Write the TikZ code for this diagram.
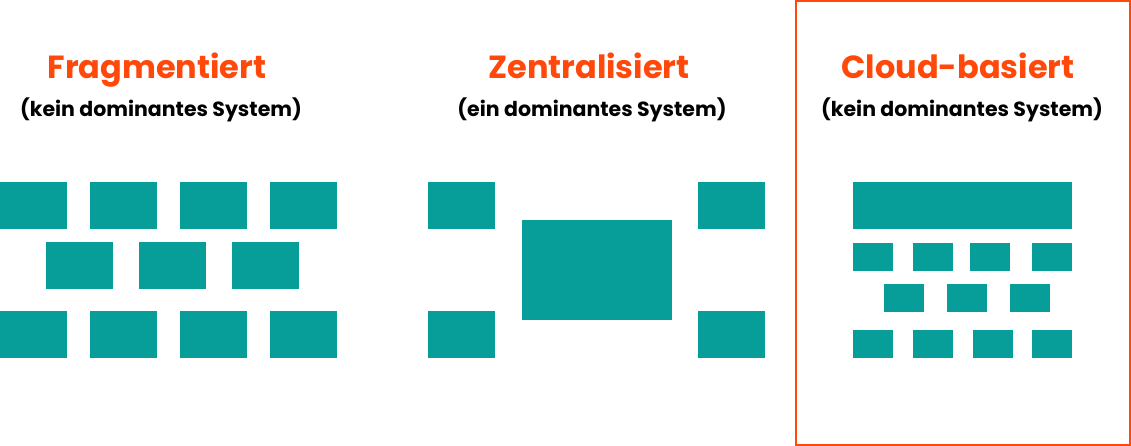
\documentclass[tikz,border=0pt]{standalone}
\usepackage{fontspec}
\setmainfont{Poppins}
\definecolor{teal1}{RGB}{7,158,154}
\definecolor{orng}{RGB}{255,72,10}
\begin{document}
\begin{tikzpicture}[x=1pt,y=-1pt,
  blk/.style={fill=teal1},
  ttl/.style={text=orng,font=\fontsize{32}{36}\selectfont\bfseries,inner sep=0pt,anchor=base},
  sub/.style={text=black,font=\fontsize{20.5}{24}\selectfont\bfseries,inner sep=0pt,anchor=base}]
\useasboundingbox (0,0) rectangle (1131,446);
% titles
\node[ttl] (t1) at (157,79) {Fragmentiert};
\node[sub] (s1) at (161,117) {(kein dominantes System)};
\node[ttl] (t2) at (589,79) {Zentralisiert};
\node[sub] (s2) at (592,117) {(ein dominantes System)};
\node[ttl] (t3) at (958,79) {Cloud-basiert};
\node[sub] (s3) at (962,117) {(kein dominantes System)};
% frame
\draw[orng,line width=2pt] (796,1) rectangle (1130,445);
% fragmentiert
\foreach \x in {0,90,180,270}{
  \fill[blk] (\x,182) rectangle ++(67,47);
  \fill[blk] (\x,311) rectangle ++(67,47);}
\foreach \x in {46,139,232}{
  \fill[blk] (\x,242) rectangle ++(67,47);}
% zentralisiert
\fill[blk] (428,182) rectangle (495,229);
\fill[blk] (698,182) rectangle (765,229);
\fill[blk] (428,311) rectangle (495,358);
\fill[blk] (698,311) rectangle (765,358);
\fill[blk] (522,220) rectangle (672,320);
% cloud
\fill[blk] (853,182) rectangle (1072,229);
\foreach \x in {853,913,970,1032}{
  \fill[blk] (\x,243) rectangle ++(40,28);}
\foreach \x in {884,947,1010}{
  \fill[blk] (\x,284) rectangle ++(40,28);}
\foreach \x in {853,913,973,1032}{
  \fill[blk] (\x,330) rectangle ++(40,28);}
\end{tikzpicture}
\end{document}
